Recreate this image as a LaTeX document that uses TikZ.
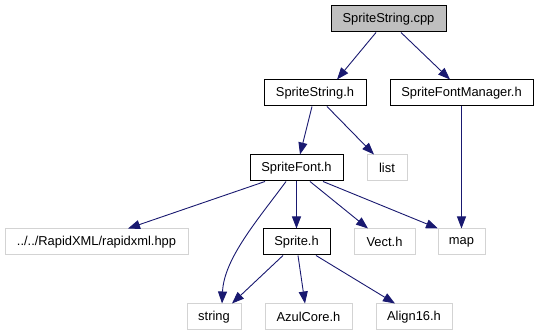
\documentclass[tikz,border=0pt]{standalone}
\usepackage{fontspec}
\setmainfont{Liberation Sans}
\usetikzlibrary{arrows.meta}
\definecolor{edgeblue}{RGB}{25,25,112}
\definecolor{srcgray}{RGB}{191,191,191}
\definecolor{extgray}{RGB}{211,211,211}

\begin{document}
\begin{tikzpicture}[
  x=1pt, y=-1pt,
  file/.style={draw=black, fill=white, line width=1pt,
    minimum height=26pt, inner sep=0pt, font=\fontsize{12.9}{15}\selectfont},
  src/.style={file, fill=srcgray},
  ext/.style={file, draw=extgray},
  dep/.style={-{Triangle[length=12pt, width=9pt]}, draw=edgeblue, line width=0.9pt}
]
  \useasboundingbox (0,0) rectangle (539,336);

  % Files, one row per include level
  \node[src, minimum width=115pt] (cpp)    at (388.5, 19) {SpriteString.cpp};
  \node[file, minimum width=102pt] (ssh)   at (315, 93)   {SpriteString.h};
  \node[file, minimum width=143pt] (sfm)   at (461.5, 93) {SpriteFontManager.h};
  \node[file, minimum width=93pt] (sf)     at (296.5, 168) {SpriteFont.h};
  \node[ext, minimum width=40pt] (list)    at (387, 168)  {list};
  \node[ext, minimum width=183pt] (rx)     at (96.5, 242) {../../RapidXML/rapidxml.hpp};
  \node[file, minimum width=67pt] (sprite) at (296.5, 242) {Sprite.h};
  \node[ext, minimum width=61pt] (vect)    at (384.5, 242) {Vect.h};
  \node[ext, minimum width=47pt] (map)     at (461.5, 242) {map};
  \node[ext, minimum width=54pt] (str)     at (214, 317)  {string};
  \node[ext, minimum width=87pt] (azul)    at (308.5, 317) {AzulCore.h};
  \node[ext, minimum width=76pt] (align)   at (414, 317)  {Align16.h};

  % Include edges
  \draw[dep] ([xshift=-12.5pt]cpp.south) -- ([xshift=22pt]ssh.north);
  \draw[dep] ([xshift=12.5pt]cpp.south) -- ([xshift=-11.5pt]sfm.north);
  \draw[dep] ([xshift=-3pt]ssh.south) -- ([xshift=3.5pt]sf.north);
  \draw[dep] ([xshift=12pt]ssh.south) -- ([xshift=-13pt]list.north);
  \draw[dep] (sfm.south) -- (map.north);

  \draw[dep] ([xshift=-31.5pt]sf.south) -- ([xshift=31.5pt]rx.north);
  \draw[dep] ([xshift=-10.5pt]sf.south) .. controls +(-28,38) and +(2,-45) .. ([xshift=8pt]str.north);
  \draw[dep] (sf.south) -- (sprite.north);
  \draw[dep] ([xshift=13.5pt]sf.south) -- ([xshift=-16.5pt]vect.north);
  \draw[dep] ([xshift=26.5pt]sf.south) -- ([xshift=-23.5pt]map.north);

  \draw[dep] ([xshift=-13.5pt]sprite.south) -- ([xshift=18pt]str.north);
  \draw[dep] ([xshift=1.5pt]sprite.south) -- ([xshift=-3.5pt]azul.north);
  \draw[dep] ([xshift=19.5pt]sprite.south) -- ([xshift=-19pt]align.north);
\end{tikzpicture}
\end{document}
